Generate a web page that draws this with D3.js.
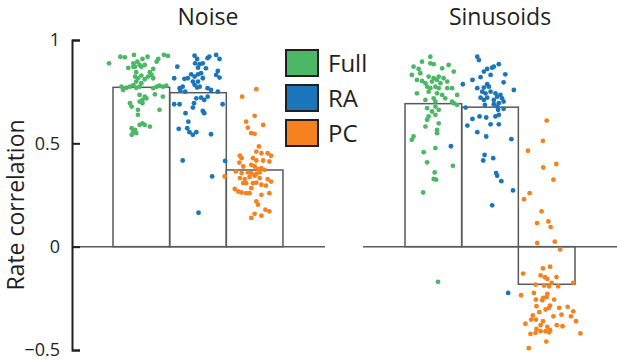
<!DOCTYPE html>
<html>
<head>
<meta charset="utf-8">
<script src="https://cdn.jsdelivr.net/npm/d3@7"></script>
<style>
  body { margin: 0; background: #fff; }
  text { font-family: "Open Sans", "Noto Sans", sans-serif; fill: #231f20; }
</style>
</head>
<body>
<div id="chart"></div>
<script>
var panels = ['Noise', 'Sinusoids'];
var conditions = ['Full', 'RA', 'PC'];
var colours = ['#4cb866', '#1b75bb', '#f5821f'];
var yTicks = [-0.5, 0, 0.5, 1];
var yLabel = 'Rate correlation';

// bar heights (mean rate correlation), one per condition
var noiseMeans = [0.771, 0.745, 0.371];
var sinusoidMeans = [0.692, 0.675, -0.182];

// single cells: [jitter within bar (fraction of bar width from centre), rate correlation]
var noiseFull = [[-0.57,0.887],[-0.37,0.919],[-0.29,0.916],[-0.13,0.928],[0.02,0.908],[0.11,0.919],[0.40,0.928],[0.47,0.923],[0.30,0.908],[0.27,0.895],[-0.14,0.887],[-0.07,0.895],[-0.03,0.879],[-0.11,0.871],[-0.23,0.865],[-0.14,0.870],[-0.09,0.844],[0.0,0.870],[0.06,0.879],[0.15,0.844],[0.21,0.860],[0.18,0.831],[-0.11,0.823],[-0.06,0.815],[0.0,0.828],[0.06,0.810],[0.12,0.823],[0.21,0.815],[-0.09,0.799],[0.0,0.791],[-0.03,0.774],[-0.14,0.782],[-0.35,0.774],[-0.32,0.758],[-0.26,0.769],[-0.2,0.774],[-0.09,0.769],[0.21,0.767],[0.27,0.774],[0.32,0.779],[0.38,0.774],[0.44,0.779],[-0.03,0.734],[0.06,0.726],[0.09,0.718],[0.24,0.737],[0.38,0.726],[0.02,0.710],[-0.2,0.694],[-0.17,0.678],[-0.03,0.702],[0.02,0.694],[0.32,0.662],[-0.06,0.662],[-0.06,0.638],[-0.03,0.589],[0.02,0.597],[0.06,0.589],[0.15,0.581],[-0.11,0.565],[-0.17,0.573],[-0.14,0.557],[-0.17,0.541],[-0.09,0.549]];
var noiseRA = [[-0.06,0.924],[-0.015,0.908],[0.17,0.912],[0.2,0.92],[0.32,0.928],[0.38,0.908],[-0.365,0.871],[-0.05,0.887],[0.03,0.883],[0.085,0.887],[0,0.866],[0.14,0.863],[0.35,0.85],[0.32,0.831],[0.38,0.818],[-0.12,0.834],[-0.06,0.823],[0,0.834],[0.055,0.839],[0.085,0.815],[-0.42,0.815],[-0.24,0.812],[-0.18,0.815],[-0.09,0.799],[0,0.799],[-0.06,0.783],[-0.015,0.77],[0.03,0.774],[0.17,0.767],[0.23,0.758],[0.35,0.75],[-0.325,0.767],[-0.27,0.774],[-0.31,0.754],[-0.225,0.75],[-0.03,0.718],[0.055,0.721],[0.11,0.71],[0.17,0.726],[-0.42,0.689],[-0.325,0.689],[-0.07,0.694],[-0.09,0.673],[0.085,0.657],[0.11,0.646],[-0.22,0.646],[0.435,0.689],[-0.17,0.605],[-0.34,0.57],[-0.19,0.573],[-0.15,0.554],[-0.09,0.541],[-0.03,0.554],[0.23,0.544],[-0.27,0.417],[0.48,0.415],[0.25,0.34],[0.01,0.164]];
var noisePC = [[0.03,0.762],[-0.22,0.726],[0,0.633],[-0.15,0.605],[-0.12,0.576],[0.15,0.589],[-0.06,0.549],[0,0.546],[0.076,0.485],[0.03,0.46],[0.12,0.452],[0.23,0.452],[0.29,0.44],[-0.26,0.44],[-0.23,0.428],[-0.03,0.428],[0.03,0.417],[0.15,0.417],[0.26,0.412],[-0.27,0.407],[-0.2,0.388],[-0.06,0.396],[0,0.388],[0.06,0.375],[0.12,0.38],[0.175,0.372],[-0.33,0.364],[-0.23,0.356],[-0.12,0.359],[-0.06,0.356],[0.03,0.353],[0.09,0.359],[-0.53,0.34],[-0.26,0.332],[-0.175,0.327],[-0.09,0.337],[0,0.343],[0.09,0.332],[0.23,0.327],[0.29,0.315],[-0.2,0.307],[-0.15,0.307],[-0.03,0.307],[0.03,0.31],[0.12,0.3],[0.2,0.295],[-0.06,0.283],[-0.35,0.279],[-0.29,0.267],[-0.23,0.262],[-0.15,0.259],[-0.09,0.259],[0.12,0.251],[0.26,0.259],[0.03,0.219],[0.06,0.203],[0.19,0.179],[0.26,0.171],[0,0.159],[0.12,0.15],[-0.06,0.139]];
var sinusoidFull = [[-0.054,0.919],[-0.2,0.895],[-0.054,0.887],[0.006,0.883],[-0.35,0.871],[-0.26,0.86],[0.155,0.863],[0.27,0.879],[0.36,0.847],[-0.38,0.831],[-0.23,0.839],[-0.083,0.823],[0.006,0.815],[0.095,0.823],[0.18,0.815],[-0.29,0.807],[-0.2,0.802],[-0.14,0.791],[-0.024,0.799],[0.065,0.807],[0.125,0.791],[0.245,0.799],[-0.11,0.774],[-0.054,0.767],[0.036,0.774],[0.095,0.767],[-0.083,0.75],[0.065,0.742],[0.245,0.767],[0.33,0.767],[-0.29,0.742],[0.155,0.734],[0.21,0.718],[0.42,0.734],[-0.14,0.71],[0.006,0.718],[0.036,0.702],[0.33,0.702],[0.36,0.694],[0.42,0.686],[-0.11,0.67],[0.036,0.678],[0.095,0.662],[-0.024,0.654],[-0.083,0.63],[-0.11,0.614],[0.036,0.638],[-0.14,0.581],[0.095,0.597],[0.065,0.565],[0.065,0.549],[-0.35,0.533],[-0.38,0.517],[-0.17,0.457],[0.036,0.477],[-0.11,0.408],[0.024,0.359],[0.345,0.391],[0.006,0.328],[0.048,0.324],[-0.18,0.262],[0.083,-0.17]];
var sinusoidRA = [[-0.225,0.919],[-0.196,0.903],[0.155,0.883],[0.038,0.866],[0.067,0.871],[-0.05,0.86],[-0.108,0.847],[0.27,0.834],[0.01,0.831],[-0.167,0.82],[-0.31,0.807],[0.24,0.795],[-0.48,0.786],[-0.05,0.786],[-0.225,0.767],[-0.108,0.77],[-0.02,0.774],[0.42,0.758],[-0.137,0.75],[-0.08,0.742],[0.01,0.75],[0.096,0.742],[0.126,0.726],[0.184,0.734],[-0.167,0.721],[-0.05,0.721],[-0.108,0.71],[0.067,0.71],[0.213,0.718],[0.24,0.702],[0.155,0.694],[-0.09,0.686],[0.067,0.689],[0.126,0.678],[0.143,0.662],[-0.43,0.673],[0.24,0.667],[0.096,0.63],[0.155,0.638],[-0.31,0.618],[-0.184,0.63],[-0.067,0.625],[-0.4,0.586],[0.01,0.592],[0.155,0.592],[-0.225,0.554],[-0.067,0.533],[0.377,0.52],[-0.096,0.444],[-0.12,0.417],[0.056,0.428],[0.108,0.356],[0.126,0.343],[0.2,0.317],[0.406,0.272],[0.038,0.2],[0.32,-0.224],[-0.69,0.486]];
var sinusoidPC = [[0,0.61],[-0.066,0.512],[-0.33,0.464],[-0.06,0.383],[0.17,0.4],[0.12,0.324],[-0.3,0.259],[-0.4,0.23],[-0.09,0.171],[-0.17,0.114],[0.03,0.122],[0.07,0.095],[-0.167,0.018],[0.143,0.024],[0.238,-0.014],[-0.416,-0.13],[-0.065,-0.105],[0.06,-0.097],[-0.107,-0.139],[-0.03,-0.148],[0.012,-0.156],[0.173,-0.147],[0.089,-0.175],[-0.196,-0.184],[-0.048,-0.188],[0.042,-0.192],[0.202,-0.192],[0.47,-0.175],[-0.226,-0.224],[0.012,-0.228],[-0.452,-0.235],[-0.06,-0.248],[0,-0.243],[0.131,-0.256],[-0.19,-0.256],[-0.077,-0.259],[0.06,-0.285],[0.22,-0.296],[0.37,-0.291],[0.47,-0.313],[-0.18,-0.288],[-0.018,-0.304],[-0.244,-0.333],[-0.131,-0.317],[0.042,-0.296],[0.262,-0.329],[0.43,-0.337],[-0.274,-0.353],[-0.19,-0.353],[-0.065,-0.361],[-0.107,-0.38],[0.119,-0.337],[-0.375,-0.373],[0.179,-0.38],[0.28,-0.385],[0.518,-0.361],[0.012,-0.388],[-0.18,-0.398],[-0.018,-0.409],[0.06,-0.404],[-0.286,-0.422],[-0.196,-0.417],[0.042,-0.414],[0.595,-0.42],[-0.006,-0.459],[-0.316,-0.491],[-0.107,-0.409]];

var means = {Noise: noiseMeans, Sinusoids: sinusoidMeans};
var cells = {
  Noise: [noiseFull, noiseRA, noisePC],
  Sinusoids: [sinusoidFull, sinusoidRA, sinusoidPC]
};

var width = 617, height = 360;
var axis_x = 72;
var dot_r = 2.4;
var line_colour = '#58595b';
var ink = '#231f20';

var svg = d3.select('#chart').append('svg')
  .attr('width', width)
  .attr('height', height);

var y = d3.scaleLinear().domain([-0.5, 1]).range([350, 40]);
var x_panel = d3.scaleBand().domain(panels).range([113, 575]).paddingInner(0.418).paddingOuter(0);
var x_cond = d3.scaleBand().domain(conditions).range([0, x_panel.bandwidth()]).padding(0);
var bw = x_cond.bandwidth();

// zero lines, one per panel
var zero_ext = 42;
svg.append('g').selectAll('line')
  .data(panels)
  .join('line')
  .attr('x1', (d, i) => i === 0 ? axis_x : x_panel(d) - zero_ext)
  .attr('x2', (d, i) => i === panels.length - 1 ? width : x_panel(d) + x_panel.bandwidth() + zero_ext)
  .attr('y1', y(0))
  .attr('y2', y(0))
  .attr('stroke', line_colour)
  .attr('stroke-width', 1.5);

var panel = svg.selectAll('g.panel')
  .data(panels)
  .join('g')
  .attr('class', 'panel')
  .attr('transform', d => 'translate(' + x_panel(d) + ',0)');

panel.append('text')
  .attr('x', x_panel.bandwidth() / 2 + 10)
  .attr('y', 25)
  .attr('text-anchor', 'middle')
  .attr('font-size', 23)
  .text(d => d);

panel.selectAll('rect.bar')
  .data(p => conditions.map((c, i) => ({c: c, v: means[p][i]})))
  .join('rect')
  .attr('class', 'bar')
  .attr('x', d => x_cond(d.c))
  .attr('width', bw)
  .attr('y', d => y(Math.max(0, d.v)))
  .attr('height', d => Math.abs(y(d.v) - y(0)))
  .attr('fill', 'none')
  .attr('stroke', line_colour)
  .attr('stroke-width', 1.5);

panel.selectAll('g.cells')
  .data(p => conditions.map((c, i) => ({c: c, i: i, pts: cells[p][i]})))
  .join('g')
  .attr('class', 'cells')
  .attr('fill', d => colours[d.i])
  .selectAll('circle')
  .data(d => d.pts.map(pt => ({c: d.c, j: pt[0], v: pt[1]})))
  .join('circle')
  .attr('cx', d => x_cond(d.c) + bw * (0.5 + d.j))
  .attr('cy', d => y(d.v))
  .attr('r', dot_r);

// y axis with inward ticks and end caps
var y_axis = svg.append('g')
  .attr('transform', 'translate(' + axis_x + ',0)')
  .call(d3.axisLeft(y)
    .tickValues(yTicks)
    .tickFormat(d3.format('~g'))
    .tickSizeInner(-8)
    .tickSizeOuter(-8)
    .tickPadding(12));
y_axis.select('.domain').attr('stroke', ink).attr('stroke-width', 2);
y_axis.selectAll('.tick line').attr('stroke', ink).attr('stroke-width', 2);
y_axis.selectAll('.tick text')
  .attr('font-size', 18)
  .attr('font-family', '"Open Sans", sans-serif')
  .attr('fill', ink);

svg.append('text')
  .attr('transform', 'translate(24,' + 205 + ') rotate(-90)')
  .attr('text-anchor', 'middle')
  .attr('font-size', 23)
  .text(yLabel);

// legend
var legend = svg.append('g')
  .attr('transform', 'translate(286,50)')
  .selectAll('g')
  .data(conditions)
  .join('g')
  .attr('transform', (d, i) => 'translate(0,' + i * 35 + ')');
legend.append('rect')
  .attr('width', 32)
  .attr('height', 26)
  .attr('fill', (d, i) => colours[i])
  .attr('stroke', ink)
  .attr('stroke-width', 2);
legend.append('text')
  .attr('x', 42)
  .attr('y', 13)
  .attr('dy', '0.36em')
  .attr('font-size', 24)
  .text(d => d);
</script>
</body>
</html>
